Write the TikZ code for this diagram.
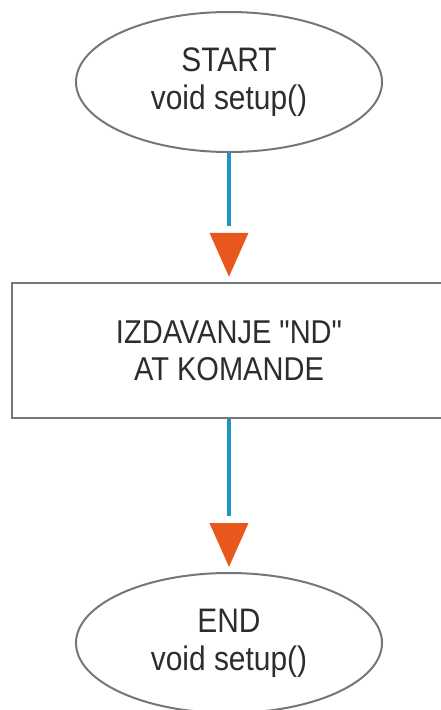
\documentclass[tikz,border=0pt]{standalone}
\usepackage{fontspec}
\newfontfamily\flowfont[FakeStretch=0.88]{Liberation Sans}
\usetikzlibrary{shapes.geometric,arrows.meta}
\definecolor{flowblue}{RGB}{28,150,198}
\definecolor{tiporange}{RGB}{232,88,28}
\definecolor{edgegray}{RGB}{118,118,118}
\definecolor{textgray}{RGB}{45,45,45}

\begin{document}
\begin{tikzpicture}[x=1pt,y=-1pt,
  term/.style={ellipse,draw=edgegray,line width=2pt,minimum width=306pt,minimum height=140pt,inner sep=0pt,align=center,text=textgray,font=\flowfont\fontsize{34}{38}\selectfont},
  task/.style={rectangle,draw=edgegray,line width=2.4pt,minimum width=434pt,minimum height=135pt,inner sep=0pt,align=center,text=textgray,font=\flowfont\fontsize{33}{37}\selectfont},
  flow/.style={draw=flowblue,line width=4pt,shorten >=56pt,
    postaction={draw=tiporange,dash pattern=on 0pt off 2000pt,shorten >=5pt,-{Triangle[length=44pt,width=38pt]}}}]
  \useasboundingbox (0,0) rectangle (440,710);
  \node[term] (start) at (229,82) {START\\void setup()};
  \node[task] (work) at (229,350.5) {IZDAVANJE "ND"\\AT KOMANDE};
  \node[term] (stop) at (229,643) {END\\void setup()};
  \draw[flow] (start) -- (work);
  \draw[flow] (work) -- (stop);
\end{tikzpicture}
\end{document}
